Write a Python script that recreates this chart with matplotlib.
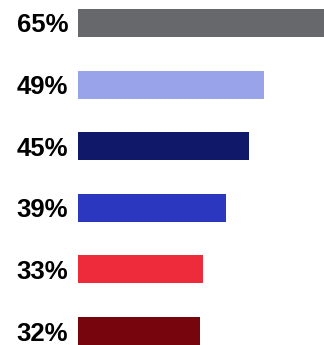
import matplotlib
matplotlib.use("Agg")
import matplotlib.pyplot as plt
import numpy as np

# share of each group, top to bottom
values = [65, 49, 45, 39, 33, 32]
labels = ["65%", "49%", "45%", "39%", "33%", "32%"]
colors = ["#67686c", "#99a3ea", "#10186a", "#2c37c0", "#ed2b3a", "#76050e"]

plt.rcParams["font.family"] = ["Liberation Sans", "DejaVu Sans"]

fig = plt.figure(figsize=(3.24, 3.45), dpi=100)
# axes start where the bars begin, labels hang off the left side
ax = fig.add_axes([78 / 324, 0, 1 - 78 / 324, 1])

y = np.arange(len(values))
ax.barh(y, values, height=0.455, color=colors)

ax.set_xlim(0, 246 / 3.8)
ax.set_ylim(5.227, -0.373)

ax.set_yticks(y)
ax.set_yticklabels(labels, fontsize=18.5, fontweight="bold")
ax.tick_params(axis="y", length=0, pad=7)
ax.set_xticks([])
for s in ax.spines.values():
    s.set_visible(False)

fig.savefig("out.png", dpi=100)
plt.close(fig)
